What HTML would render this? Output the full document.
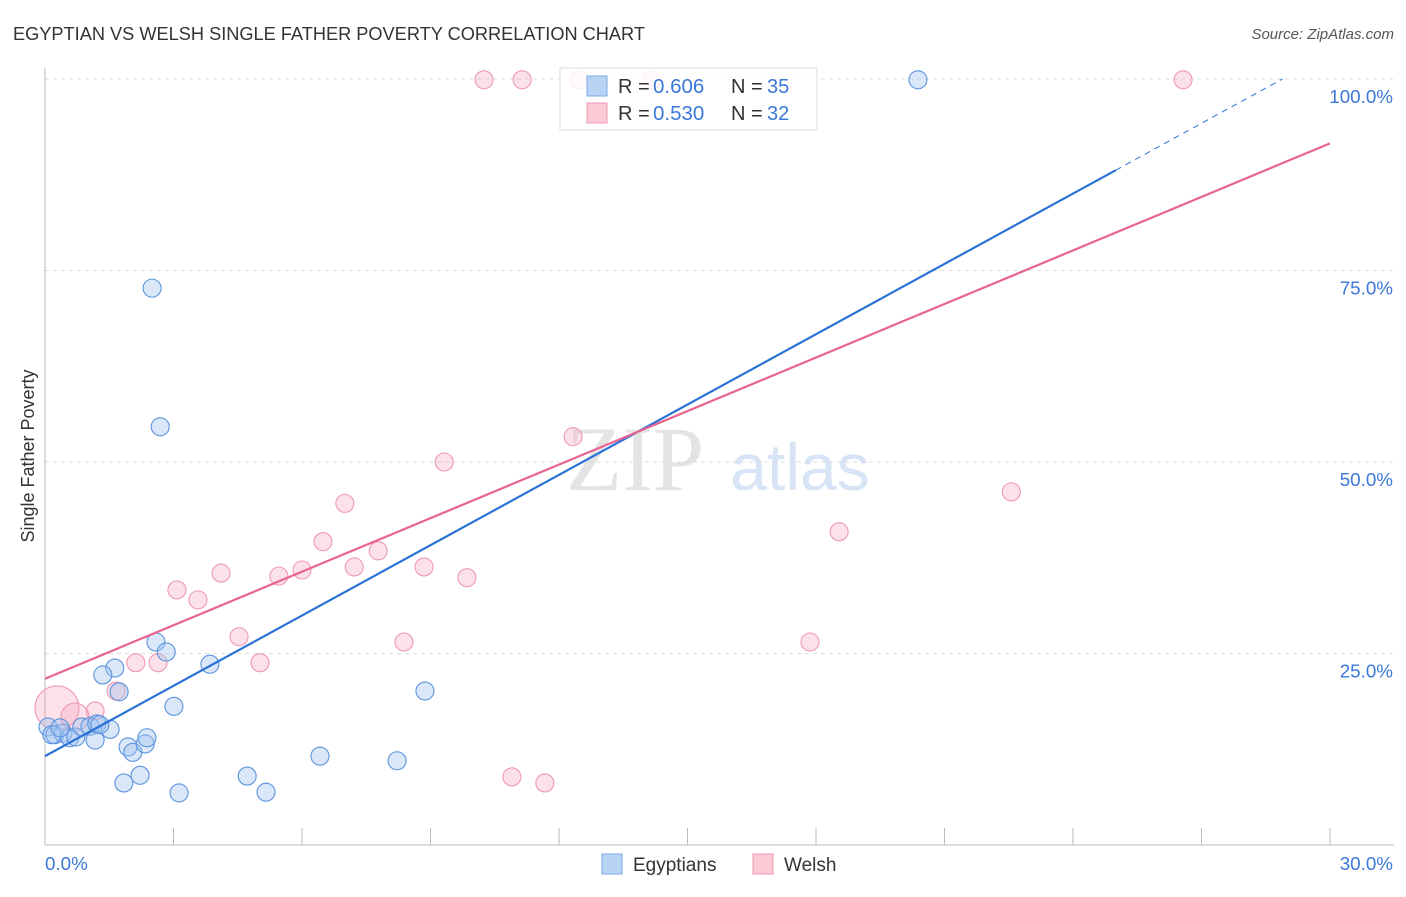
<!DOCTYPE html>
<html><head><meta charset="utf-8"><style>
body{margin:0;background:#fff;font-family:"Liberation Sans",sans-serif;}
</style></head><body>
<svg id="chart" width="1406" height="892" xmlns="http://www.w3.org/2000/svg" font-family="Liberation Sans, sans-serif">
<text x="13" y="40" font-size="18.2" fill="#333">EGYPTIAN VS WELSH SINGLE FATHER POVERTY CORRELATION CHART</text>
<text x="1394" y="39" font-size="15" fill="#555" font-style="italic" text-anchor="end">Source: ZipAtlas.com</text>
<text x="635" y="490" font-size="92" fill="#e4e4e4" font-family="Liberation Serif, serif" text-anchor="middle">ZIP</text>
<text x="800" y="490" font-size="66" fill="#d6e4f5" text-anchor="middle">atlas</text>
<text transform="translate(34,456) rotate(-90)" font-size="18" fill="#333" text-anchor="middle">Single Father Poverty</text>
<g id="grid"></g><g id="axes"></g><g id="pts"></g><g id="trend"></g>
<g>
<rect x="560" y="68" width="257" height="62" fill="#fff" fill-opacity="0.85" stroke="#ddd"/>
<rect x="587" y="76" width="20" height="20" fill="#b9d3f5" stroke="#7aa8e8"/>
<rect x="587" y="103" width="20" height="20" fill="#fac9d6" stroke="#ee99b0"/>
<text x="618" y="93" font-size="20" fill="#333">R =</text><text x="653" y="93" font-size="20.5" fill="#3b78d8">0.606</text>
<text x="731" y="93" font-size="20" fill="#333">N =</text><text x="767" y="93" font-size="20" fill="#3b78d8">35</text>
<text x="618" y="120" font-size="20" fill="#333">R =</text><text x="653" y="120" font-size="20.5" fill="#3b78d8">0.530</text>
<text x="731" y="120" font-size="20" fill="#333">N =</text><text x="767" y="120" font-size="20" fill="#3b78d8">32</text>
</g>
<g>
<rect x="602" y="854" width="20" height="20" fill="#b9d3f5" stroke="#7aa8e8"/>
<text x="633" y="871" font-size="19" fill="#333">Egyptians</text>
<rect x="753" y="854" width="20" height="20" fill="#fac9d6" stroke="#ee99b0"/>
<text x="784" y="871" font-size="19" fill="#333">Welsh</text>
</g>
</svg>
<script>
const xTickVals=[0,3,6,9,12,15,18,21,24,27,30];
const yTickVals=[25,50,75,100];
const yTickLabels=["25.0%","50.0%","75.0%","100.0%"];
const xEndLabels=["0.0%","30.0%"];
const egyX=[2.50,2.69,2.59,2.83,1.63,1.35,3.85,1.73,3.01,8.87,0.07,0.23,0.42,0.58,0.72,0.86,1.05,1.21,1.52,1.17,1.94,2.05,2.34,2.38,6.42,8.22,2.22,1.84,4.72,3.13,5.16,20.38,0.16,0.35,1.28];
const egyY=[72.7,54.6,26.5,25.2,23.1,22.2,23.6,20.0,18.1,20.1,15.4,14.4,14.6,14.0,14.1,15.4,15.5,15.8,15.1,13.7,12.8,12.1,13.2,14.0,11.6,11.0,9.1,8.1,9.0,6.8,6.9,99.9,14.4,15.3,15.7];
const welX=[10.25,11.14,12.47,14.17,26.57,12.33,9.32,7.00,22.56,6.49,7.78,18.54,4.11,5.46,6.00,7.22,8.85,9.85,3.08,3.57,4.53,8.38,17.86,2.12,2.64,5.02,1.66,1.17,0.28,0.70,10.90,11.67];
const welY=[99.9,99.9,99.9,99.9,99.9,53.3,50.0,44.6,46.1,39.6,38.4,40.9,35.5,35.1,35.9,36.3,36.3,34.9,33.3,32.0,27.2,26.5,26.5,23.8,23.8,23.8,20.1,17.5,17.9,16.7,8.9,8.1];
const welR=[9,9,9,9,9,9,9,9,9,9,9,9,9,9,9,9,9,9,9,9,9,9,9,9,9,9,9,9,22,14,9,9];
const egyTrend=[11.6,3.06];
const welTrend=[21.7,2.33];
const X=v=>45+v*1285/30, Y=v=>845-v*7.66;
const NS="http://www.w3.org/2000/svg";
function mk(p,t,a){const e=document.createElementNS(NS,t);for(const k in a)e.setAttribute(k,a[k]);p.appendChild(e);return e;}
const grid=document.getElementById('grid'),axes=document.getElementById('axes'),pts=document.getElementById('pts'),tr=document.getElementById('trend');
yTickVals.forEach((v,i)=>{
 const l=mk(grid,'line',{x1:45,x2:1394,y1:Y(v),y2:Y(v),stroke:'#ddd','stroke-dasharray':'4,4'});
 
 
 const t=mk(grid,'text',{x:1393,y:Y(v)+24,'font-size':18.8,fill:'#3b78d8','text-anchor':'end'});t.textContent=yTickLabels[i];
 
 
});
mk(axes,'line',{x1:45,x2:45,y1:68,y2:845,stroke:'#bbb'});
mk(axes,'line',{x1:45,x2:1394,y1:845,y2:845,stroke:'#bbb'});
xTickVals.forEach(v=>{const l=mk(axes,'line',{x1:X(v),x2:X(v),y1:828,y2:845,stroke:'#bbb'});
 
 });
const t0=mk(axes,'text',{x:45,y:870,'font-size':18.8,fill:'#3b78d8'});t0.textContent=xEndLabels[0];


const t1=mk(axes,'text',{x:1393,y:870,'font-size':18.8,fill:'#3b78d8','text-anchor':'end'});t1.textContent=xEndLabels[1];


welX.forEach((v,i)=>{const c=mk(pts,'circle',{cx:X(v),cy:Y(welY[i]),r:welR[i],fill:'rgba(246,168,192,0.35)',stroke:'#ee99b0','stroke-width':1.1});
 
 });
egyX.forEach((v,i)=>{const c=mk(pts,'circle',{cx:X(v),cy:Y(egyY[i]),r:9,fill:'rgba(160,196,240,0.4)',stroke:'#5b93dd','stroke-width':1.1});
 
 });
const eEnd=25;
let l=mk(tr,'line',{x1:X(0),y1:Y(egyTrend[0]),x2:X(eEnd),y2:Y(egyTrend[0]+egyTrend[1]*eEnd),stroke:'#2b72d6','stroke-width':2.2});


const eMax=(100-egyTrend[0])/egyTrend[1];
l=mk(tr,'line',{x1:X(eEnd),y1:Y(egyTrend[0]+egyTrend[1]*eEnd),x2:X(eMax),y2:Y(100),stroke:'#2b72d6','stroke-width':1,'stroke-dasharray':'6,5'});


l=mk(tr,'line',{x1:X(0),y1:Y(welTrend[0]),x2:X(30),y2:Y(welTrend[0]+welTrend[1]*30),stroke:'#e8638e','stroke-width':2.2});


</script>
</body></html>
